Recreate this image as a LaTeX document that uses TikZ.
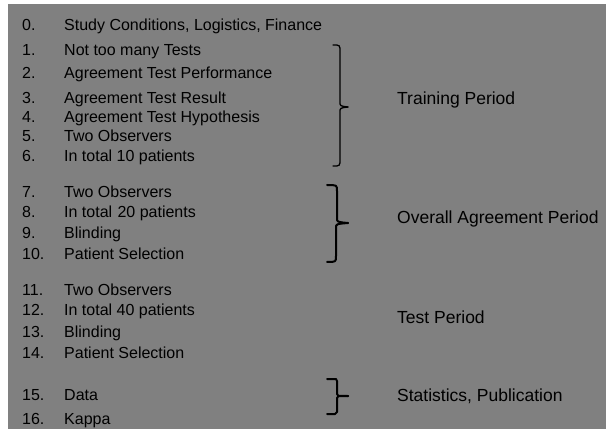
\documentclass[tikz,border=0pt]{standalone}
\usepackage{fontspec}
\setmainfont{Liberation Sans}
\begin{document}
\begin{tikzpicture}[x=1pt,y=-1pt,
  num/.style={anchor=base west,inner sep=0pt,font=\fontsize{16}{18}\selectfont},
  item/.style={anchor=base west,inner sep=0pt,font=\fontsize{16}{18}\selectfont},
  phase/.style={anchor=base west,inner sep=0pt,font=\fontsize{17.5}{20}\selectfont},
  brace/.style={draw=black,line width=#1,line cap=round,line join=round},
  brace/.default=1.5pt]
% canvas and grey panel
\useasboundingbox (0,0) rectangle (606,433);
\fill[white] (0,0) rectangle (606,433);
\fill[black!50] (8,4) rectangle (606,429);
% numbered list
\foreach \n/\y/\t in {
  0/30.7/{Study Conditions, Logistics, Finance},
  1/55.7/{Not too many Tests},
  2/78.7/{Agreement Test Performance},
  3/103.7/{Agreement Test Result},
  4/122.7/{Agreement Test Hypothesis},
  5/141.7/{Two Observers},
  6/161.7/{In total 10 patients},
  7/197.7/{Two Observers},
  8/217.7/{In total\,\,20 patients},
  9/238.7/{Blinding},
  10/259.7/{Patient Selection},
  11/295.7/{Two Observers},
  12/315.7/{In total 40 patients},
  13/337.7/{Blinding},
  14/358.7/{Patient Selection},
  15/400.7/{Data},
  16/424.7/{Kappa}}{
  \node[num] (n\n) at (22,\y) {\n.};
  \node[item] (t\n) at (64,\y) {\t};
}
% phase labels
\node[phase] (training) at (397,104.3) {Training Period};
\node[phase] (overall) at (397,223.3) {Overall Agreement Period};
\node[phase] (testp) at (397,323.3) {Test Period};
\node[phase] (stats) at (397,401.3) {Statistics, Publication};
% braces grouping the list
\draw[brace=1.3pt] (333,45) .. controls (340,45) .. (340,52) -- (340,102)
  .. controls (340,106) .. (348,107);
\draw[brace=1.3pt] (348,107) .. controls (340,108) .. (340,112) -- (340,159)
  .. controls (340,166) .. (333,166);
\draw[brace=2pt] (327,185) .. controls (337,185) .. (337,191) -- (337,218)
  .. controls (337,222) .. (348,223);
\draw[brace=2pt] (348,223) .. controls (336,224) .. (336,228) -- (336,256)
  .. controls (336,262) .. (327,262);
\draw[brace=2pt] (327,379) -- (336,379) -- (337,381) -- (337,394)
  .. controls (337,396) .. (348,396);
\draw[brace=2pt] (348,396) .. controls (337,396) .. (337,398) -- (337,412)
  -- (335,414) -- (327,414);
\end{tikzpicture}
\end{document}
